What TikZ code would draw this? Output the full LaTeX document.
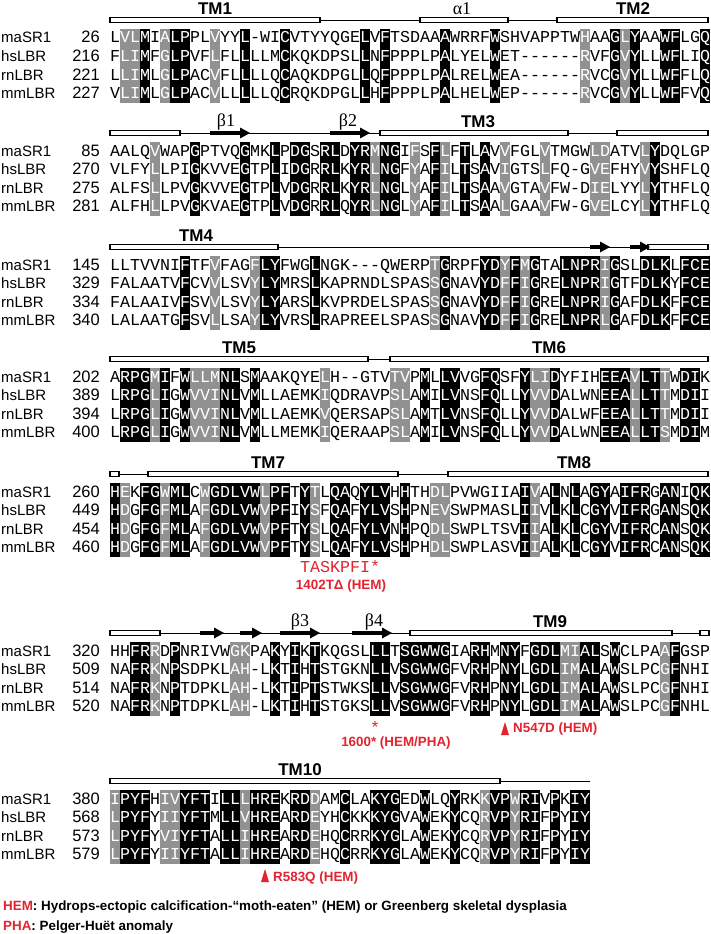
\documentclass[tikz,border=0pt]{standalone}
\usepackage{fontspec}
\setmainfont{Liberation Sans}
\newfontfamily\monof{Liberation Mono}
\newfontfamily\serf{Liberation Serif}
\definecolor{shgray}{RGB}{145,145,145}
\definecolor{mutred}{RGB}{226,36,48}
\newcount\ci
\def\nonestr{none}
\def\setshade#1{\global\ci=0 \shloop#1\relax}
\def\shloop#1{\ifx\relax#1\else
  \if k#1\expandafter\gdef\csname bg\the\ci\endcsname{black}\fi
  \if g#1\expandafter\gdef\csname bg\the\ci\endcsname{shgray}\fi
  \if .#1\expandafter\gdef\csname bg\the\ci\endcsname{none}\fi
  \global\advance\ci by 1
  \expandafter\shloop\fi}
\def\drawshade#1{%
  \pgfmathtruncatemacro\lastc{\the\ci-1}%
  \foreach \c in {0,...,\lastc}{%
    \edef\bgc{\csname bg\c\endcsname}%
    \ifx\bgc\nonestr\else
      \fill[\bgc] ({110+10*\c-0.25},{#1-9.3}) rectangle ({120+10*\c+0.25},{#1+65.1});
    \fi}}
\def\seqrow#1#2{\global\ci=0 \def\rowy{#1}\sqloop#2\relax}
\def\sqloop#1{\ifx\relax#1\else
  \edef\bgc{\csname bg\the\ci\endcsname}%
  \ifx\bgc\nonestr\def\fgc{black}\else\def\fgc{white}\fi
  \node[res,text=\fgc] at ({115+10*\the\ci},{\rowy+5}) {#1};%
  \global\advance\ci by 1
  \expandafter\sqloop\fi}
\newcommand\blockrows[6]{%
  \setshade{#2}\drawshade{#1}%
  \seqrow{#1}{#3}\seqrow{#1+18.6}{#4}\seqrow{#1+37.2}{#5}\seqrow{#1+55.8}{#6}}
\newcommand\blocknames[6]{%
  \node[nm,anchor=base west] (#1ma) at (1,{#2+5}) {maSR1};
  \node[nm,anchor=base west] (#1hs) at (1,{#2+18.6+5}) {hsLBR};
  \node[nm,anchor=base west] (#1rn) at (1,{#2+37.2+5}) {rnLBR};
  \node[nm,anchor=base west] (#1mm) at (1,{#2+55.8+5}) {mmLBR};
  \node[num,anchor=base east] (#1nma) at (100,{#2+5}) {#3};
  \node[num,anchor=base east] (#1nhs) at (100,{#2+18.6+5}) {#4};
  \node[num,anchor=base east] (#1nrn) at (100,{#2+37.2+5}) {#5};
  \node[num,anchor=base east] (#1nmm) at (100,{#2+55.8+5}) {#6};}
\newcommand\tmbar[3]{\filldraw[fill=white,draw=black,line width=1.1pt] (#1,{#3-2.5}) rectangle (#2,{#3+2.5});}
\newcommand\hl[3]{\draw[line width=0.9pt] (#1,#3) -- (#2,#3);}
\newcommand\barr[3]{\fill[black] (#1,{#3-2.2}) rectangle ({#2-9},{#3+2.2});
  \fill[black] ({#2-10},{#3-5.5}) -- (#2,#3) -- ({#2-10},{#3+5.5}) -- cycle;}
\newcommand\uptri[2]{\fill[mutred] ({#1-4},{#2+6}) -- (#1,{#2-7}) -- ({#1+4},{#2+6}) -- cycle;}
\tikzset{
  res/.style={font=\monof\fontsize{16.66}{18}\selectfont,inner sep=0pt,anchor=base},
  nm/.style={font=\fontsize{15}{17}\selectfont,inner sep=0pt},
  num/.style={font=\fontsize{16.5}{18}\selectfont,inner sep=0pt},
  tml/.style={font=\bfseries\fontsize{17}{20}\selectfont,inner sep=0pt},
  grk/.style={font=\serf\fontsize{18}{20}\selectfont,inner sep=0pt},
  mut/.style={font=\bfseries\fontsize{13.4}{15}\selectfont,text=mutred,inner sep=0pt},
  leg/.style={font=\bfseries\fontsize{13.4}{15}\selectfont,inner sep=0pt,anchor=base west}
}
\begin{document}
\begin{tikzpicture}[x=1pt,y=-1pt]
\fill[white] (0,0) rectangle (710,934);
\useasboundingbox (0,0) rectangle (710,934);
% ---------- Block 1
\hl{320}{420}{20}\hl{508}{557}{20}
\tmbar{110}{320}{20}\tmbar{420}{508}{20}\tmbar{557}{708}{20}
\node[tml] (tm1) at (215,9) {TM1};
\node[grk] (a1) at (462,9) {α1};
\node[tml] (tm2) at (633,9) {TM2};
\blockrows{38}{.ggk.gkk.. g..k...k.. .....k.k.. ...k....k. .......g.. kgk..kk..k}
{LVLMIALPPL VYYL-WICVT YYQGELVFTS DAAAWRRFWS HVAPPTWHAA GLYAAWFLGQ}
{FLIMFGLPVF LFLLLLMCKQ KDPSLLNFPP PLPALYELWE T------RVF GVYLLWFLIQ}
{LLIMLGLPAC VFLLLLQCAQ KDPGLLQFPP PLPALRELWE A------RVC GVYLLWFFLQ}
{VLIMLGLPAC VLLLLLQCRQ KDPGLLHFPP PLPALHELWE P------RVC GVYLLWFFVQ}
\blocknames{b1}{38}{26}{216}{221}{227}
% ---------- Block 2
\hl{180}{380}{133}\hl{568}{617}{133}
\tmbar{110}{180}{133}\tmbar{380}{568}{133}\tmbar{617}{708}{133}
\barr{210}{250}{133}\barr{330}{370}{133}
\node[grk] (b1l) at (226,122) {β1};
\node[grk] (b2l) at (348,122) {β2};
\node[tml] (tm3) at (478,122) {TM3};
\blockrows{151}{....g...k. ...k..k.kk .kk.kkgkk. g.kg.k.k.g ...g....gg ...gk.....}
{AALQVWAPGP TVQGMKLPDG SRLDYRMNGI FSFLFTLAVV FGLVTMGWLD ATVLYDQLGP}
{VLFYLLPIGK VVEGTPLIDG RRLKYRLNGF YAFILTSAVI GTSLFQ-GVE FHYVYSHFLQ}
{ALFSLLPVGK VVEGTPLVDG RRLKYRLNGL YAFILTSAAV GTAVFW-DIE LYYLYTHFLQ}
{ALFHLLPVGK VAEGTPLVDG RRLQYRLNGL YAFILTSAAL GAAVFW-GVE LCYLYTHFLQ}
\blocknames{b2}{151}{85}{270}{275}{281}
% ---------- Block 3
\hl{278}{648}{247}
\tmbar{110}{278}{247}\tmbar{648}{708}{247}
\barr{590}{610}{247}\barr{630}{650}{247}
\node[tml] (tm4) at (196,236) {TM4};
\blockrows{265}{.......k.. g...gkk... k......... ..gk...kkg kgk..kkkkg k..kkk.kkk}
{LLTVVNIFTF VFAGFLYFWG LNGK---QWE RPTGRPFYDY FMGTALNPRI GSLDLKLFCE}
{FALAATVFCV VLSVYLYMRS LKAPRNDLSP ASSGNAVYDF FIGRELNPRI GTFDLKYFCE}
{FALAAIVFSV VLSVYLYARS LKVPRDELSP ASSGNAVYDF FIGRELNPRI GAFDLKFFCE}
{LALAATGFSV LLSAYLYVRS LRAPREELSP ASSGNAVYDF FIGRELNPRL GAFDLKFFCE}
\blocknames{b3}{265}{145}{329}{334}{340}
% ---------- Block 4
\hl{368}{390}{359}
\tmbar{110}{368}{359}\tmbar{390}{708}{359}
\node[tml] (tm5) at (239,348) {TM5};
\node[tml] (tm6) at (549,348) {TM6};
\blockrows{377}{.kkkgk.kgg gkk.k..... .g......gg .k.kk..kk. .kggk....k kkgkkg.kk.}
{ARPGMIFWLL MNLSMAAKQY ELH--GTVTV PMLLVVGFQS FYLIDYFIHE EAVLTTWDIK}
{LRPGLIGWVV INLVMLLAEM KIQDRAVPSL AMILVNSFQL LYVVDALWNE EALLTTMDII}
{LRPGLIGWVV INLVMLLAEM KVQERSAPSL AMTLVNSFQL LYVVDALWFE EALLTTMDII}
{LRPGLIGWVV INLVMLLMEM KIQERAAPSL AMILVNSFQL LYVVDALWNE EALLTSMDIM}
\blocknames{b4}{377}{202}{389}{394}{400}
% ---------- Block 5
\hl{119}{148}{474}\hl{398}{448}{474}
\tmbar{110}{119}{474}\tmbar{148}{398}{474}\tmbar{448}{708}{474}
\node[tml] (tm7) at (268,463) {TM7};
\node[tml] (tm8) at (574,463) {TM8};
\blockrows{492}{kg.kkgkk.g kkkkkgkk.k g.kk.kkk.k ..gg...... .kg.k.k.kk .kkk.kk.kk}
{HEKFGWMLCW GDLVWLPFTY TLQAQYLVHH THDLPVWGII AIVALNLAGY AIFRGANIQK}
{HDGFGFMLAF GDLVWVPFIY SFQAFYLVSH PNEVSWPMAS LIIVLKLCGY VIFRGANSQK}
{HDGFGFMLAF GDLVWVPFTY SLQAFYLVNH PQDLSWPLTS VIIALKLCGY VIFRCANSQK}
{HDGFGFMLAF GDLVWVPFTY SLQAFYLVSH PHDLSWPLAS VIIALKLCGY VIFRCANSQK}
\blocknames{b5}{492}{260}{449}{454}{460}
\node[res,anchor=base west,text=mutred] (fs) at (300,572) {TASKPFI*};
\node[mut] (m1) at (341,586) {1402TΔ (HEM)};
% ---------- Block 6
\hl{160}{410}{633}\hl{672}{700}{633}
\tmbar{110}{160}{633}\tmbar{410}{672}{633}\tmbar{700}{709}{633}
\barr{200}{224}{633}\barr{240}{262}{633}\barr{280}{320}{633}\barr{352}{392}{633}
\node[grk] (b3l) at (300,622) {β3};
\node[grk] (b4l) at (374,622) {β4};
\node[tml] (tm9) at (550,622) {TM9};
\blockrows{651}{..kkg.k... ..gg..k.k. k.....kk.k kkkk..kk.k k.kkkggkk. k....gk...}
{HHFRRDPNRI VWGKPAKYIK TKQGSLLLTS GWWGIARHMN YFGDLMIALS WCLPAAFGSP}
{NAFRKNPSDP KLAH-LKTIH TSTGKNLLVS GWWGFVRHPN YLGDLIMALA WSLPCGFNHI}
{NAFRKNPTDP KLAH-LKTIP TSTWKSLLVS GWWGFVRHPN YLGDLIMALA WSLPCGFNHI}
{NAFRKNPTDP KLAH-LKTIH TSTGKSLLVS GWWGFVRHPN YLGDLIMALA WSLPCGFNHL}
\blocknames{b6}{651}{320}{509}{514}{520}
\node[res,text=mutred] (st) at (375,733) {*};
\node[mut] (m2) at (396,743) {1600* (HEM/PHA)};
\uptri{505}{729}
\node[mut,anchor=west] (m3) at (513,729) {N547D (HEM)};
% ---------- Block 7
\hl{500}{590}{781}
\tmbar{110}{500}{781}
\node[tml] (tm10) at (300,770) {TM10};
\blockrows{799}{gkkk.ggkkk .kkgkkk.kk g..k..kkk. .k..k..gkk gkk.k.kk}
{IPYFHIVYFT ILLLHREKRD DAMCLAKYGE DWLQYRKKVP WRIVPKIY}
{LPYFYIIYFT MLLVHREARD EYHCKKKYGV AWEKYCQRVP YRIFPYIY}
{LPYFYVIYFT ALLIHREARD EHQCRRKYGL AWEKYCQRVP YRIFPYIY}
{LPYFYIIYFT ALLIHREARD EHQCRRKYGL AWEKYCQRVP YRIFPYIY}
\blocknames{b7}{799}{380}{568}{573}{579}
\uptri{265}{876}
\node[mut,anchor=west] (m4) at (273,878) {R583Q (HEM)};
% ---------- Legend
\node[leg] (l1) at (3,910) {\textcolor{mutred}{HEM}: Hydrops-ectopic calcification-“moth-eaten” (HEM) or Greenberg skeletal dysplasia};
\node[leg] (l2) at (3,930) {\textcolor{mutred}{PHA}: Pelger-Huët anomaly};
\end{tikzpicture}
\end{document}
